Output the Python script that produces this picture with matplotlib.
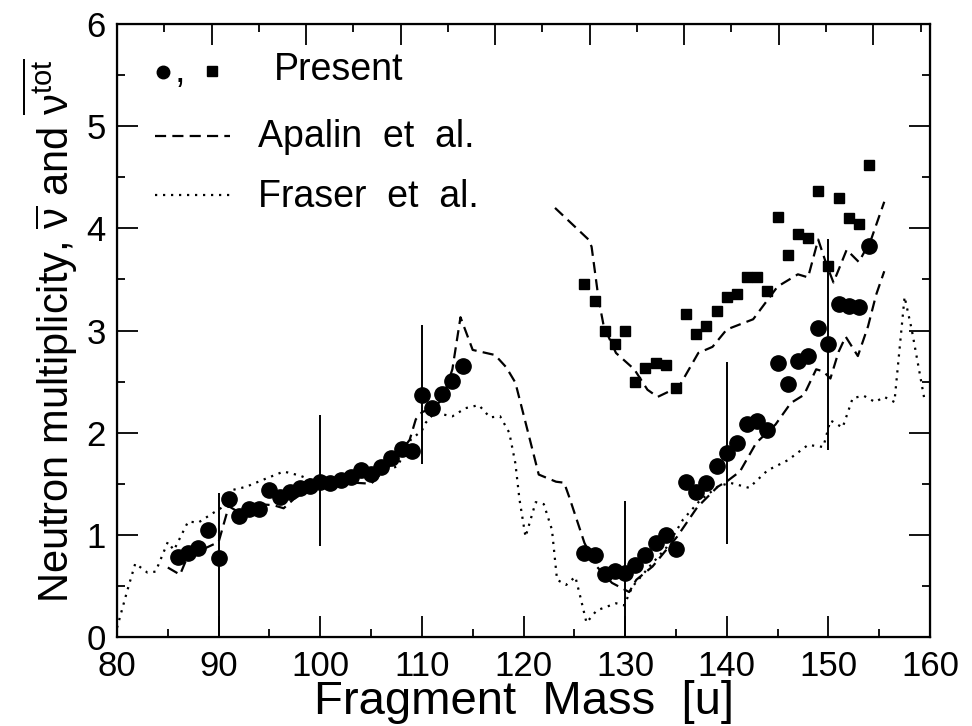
import matplotlib
matplotlib.use('Agg')
import matplotlib.pyplot as plt
from matplotlib.ticker import MultipleLocator, NullFormatter

plt.rcParams['font.family'] = ['Liberation Sans', 'DejaVu Sans']
plt.rcParams['mathtext.fontset'] = 'custom'
plt.rcParams['mathtext.rm'] = 'Liberation Sans'
plt.rcParams['mathtext.it'] = 'Liberation Sans:italic'

# present data: mean neutron multiplicity per fragment mass (circles)
nu_mass = list(range(86, 115)) + list(range(126, 155))
nu_val = [0.78, 0.82, 0.87, 1.05, 0.77, 1.35, 1.18, 1.25, 1.25, 1.44,
          1.37, 1.42, 1.46, 1.48, 1.52, 1.51, 1.54, 1.57, 1.63, 1.60,
          1.66, 1.75, 1.84, 1.82, 2.37, 2.24, 2.38, 2.51, 2.65,
          0.82, 0.80, 0.62, 0.65, 0.63, 0.70, 0.80, 0.92, 1.00, 0.86,
          1.52, 1.42, 1.51, 1.67, 1.80, 1.90, 2.08, 2.11, 2.03, 2.68,
          2.48, 2.70, 2.75, 3.02, 2.87, 3.26, 3.24, 3.23, 3.83]

# present data: total multiplicity (squares)
tot_mass = list(range(126, 155))
tot_val = [3.46, 3.29, 3.00, 2.87, 3.00, 2.50, 2.63, 2.68, 2.66, 2.44,
           3.16, 2.97, 3.04, 3.19, 3.33, 3.36, 3.52, 3.52, 3.39, 4.11,
           3.74, 3.94, 3.91, 4.37, 3.63, 4.30, 4.10, 4.04, 4.62]

# Apalin et al. (dashed), nu-bar
apalin_x = [85, 86.2, 87, 88, 88.7, 90, 91, 92, 93, 94, 95.4, 96.4, 97.4, 98.5,
            100, 101, 102, 103.4, 105, 106, 107, 108.8, 109.4, 110, 111, 112,
            113, 113.8, 115, 117.2, 118.3, 119.2, 120.2, 121.5, 123.2, 124,
            124.5, 126, 127.2, 128.7, 130.4, 131.1, 132.7, 135.1, 137.1, 139.1,
            140.1, 141.3, 142.9, 144.8, 146.3, 147.6, 148.8, 149.5, 150.2, 151,
            151.7, 152.9, 153.9, 154.7, 155.5]
apalin_y = [0.68, 0.61, 0.80, 0.85, 0.87, 0.93, 1.28, 1.22, 1.26, 1.30, 1.29,
            1.26, 1.35, 1.42, 1.49, 1.50, 1.50, 1.51, 1.50, 1.60, 1.69, 1.93,
            2.13, 2.20, 2.24, 2.32, 2.62, 3.13, 2.81, 2.76, 2.64, 2.49, 2.10,
            1.59, 1.52, 1.51, 1.37, 0.92, 0.69, 0.53, 0.44, 0.56, 0.69, 0.98,
            1.27, 1.47, 1.53, 1.62, 1.90, 2.08, 2.29, 2.37, 2.62, 2.60, 2.53,
            2.79, 2.94, 2.75, 3.04, 3.35, 3.58]

# Apalin et al. (dashed), nu-tot
apalin_tot_x = [123.1, 126.4, 126.7, 127.4, 127.9, 129.1, 130.9, 132.2, 133.2,
                135.3, 137.2, 138.6, 140.0, 141.3, 142.6, 145, 147, 148, 149,
                149.8, 150.5, 151.8, 153, 154.2, 155.5]
apalin_tot_y = [4.20, 3.89, 3.82, 3.30, 3.04, 2.78, 2.62, 2.42, 2.35, 2.45,
                2.78, 2.84, 3.01, 3.06, 3.11, 3.43, 3.55, 3.52, 3.89, 3.65,
                3.47, 3.79, 3.67, 3.89, 4.26]

# Fraser et al. (dotted)
fraser_x = [80, 81, 81.8, 83, 83.8, 85, 85.6, 87, 88, 89.4, 90.2, 91.4, 92.7,
            94.4, 96.4, 98, 99, 100, 101, 102, 103, 104, 105, 106, 107.6, 108.9,
            110, 110.4, 111.3, 112, 113, 114.3, 115.6, 116.7, 117.7, 118.6,
            119.2, 119.6, 120.2, 121.2, 122, 122.8, 123.3, 124.2, 125.1, 125.6,
            126.2, 127.2, 129.1, 129.9, 130.7, 132.4, 134.1, 135.7, 137.4,
            139.1, 140.3, 142.2, 144, 146, 148, 149.5, 150.2, 151.4, 152.4,
            153.5, 154.6, 155.5, 156.5, 157.5, 158.2, 159.5]
fraser_y = [0.09, 0.45, 0.72, 0.63, 0.64, 0.93, 0.85, 1.13, 1.12, 1.21, 1.26,
            1.44, 1.47, 1.54, 1.62, 1.58, 1.54, 1.52, 1.50, 1.52, 1.55, 1.56,
            1.58, 1.62, 1.67, 1.93, 2.02, 2.10, 2.20, 2.18, 2.16, 2.24, 2.27,
            2.15, 2.16, 2.00, 1.70, 1.35, 0.98, 1.32, 1.30, 1.05, 0.56, 0.51,
            0.59, 0.39, 0.14, 0.26, 0.33, 0.31, 0.49, 0.69, 0.88, 1.15, 1.34,
            1.47, 1.51, 1.46, 1.63, 1.73, 1.88, 1.86, 2.12, 2.05, 2.34, 2.36,
            2.30, 2.35, 2.30, 3.33, 3.01, 2.30]

# vertical bars at selected masses
bar_x = [90, 100, 110, 130, 140, 150]
bar_lo = [0.0, 0.89, 1.69, 0.0, 0.91, 1.83]
bar_hi = [1.41, 2.17, 3.05, 1.33, 2.69, 3.90]

fig = plt.figure(figsize=(9.72, 7.26), dpi=100)
ax = fig.add_axes([117 / 972, 1 - 637 / 726, 813 / 972, 613 / 726])

dash = (0, (5, 2.8))
dot = (0, (1, 2.6))
ax.plot(fraser_x, fraser_y, color='black', ls=dot, lw=1.6)
ax.plot(apalin_x, apalin_y, color='black', ls=dash, lw=1.6)
ax.plot(apalin_tot_x, apalin_tot_y, color='black', ls=dash, lw=1.6)
ax.vlines(bar_x, bar_lo, bar_hi, color='black', lw=1.4)
ax.plot(nu_mass, nu_val, 'o', color='black', ms=11, zorder=3)
ax.plot(tot_mass, tot_val, 's', color='black', ms=7.5, zorder=3)

ax.set_xlim(80, 160)
ax.set_ylim(0, 6)
ax.xaxis.set_major_locator(MultipleLocator(10))
ax.xaxis.set_minor_locator(MultipleLocator(5))
ax.yaxis.set_major_locator(MultipleLocator(1))
ax.yaxis.set_minor_locator(MultipleLocator(0.5))
ax.tick_params(which='both', direction='in', right=True, top=False, width=1.3)
ax.tick_params(which='major', length=15, labelsize=25)
ax.tick_params(which='minor', length=6)
ax.tick_params(axis='x', pad=9)
ax.tick_params(axis='y', pad=8)
for s in ax.spines.values():
    s.set_linewidth(1.6)

# top axis has its own tick spacing, no labels
top = ax.twiny()
top.set_xlim(0, 8.6)
top.xaxis.set_major_locator(MultipleLocator(1))
top.xaxis.set_minor_locator(MultipleLocator(0.5))
top.xaxis.set_major_formatter(NullFormatter())
top.tick_params(which='both', direction='in', width=1.3)
top.tick_params(which='major', length=15)
top.tick_params(which='minor', length=6)

ax.set_xlabel('Fragment  Mass  [u]', fontsize=34, labelpad=-2)
ax.set_ylabel(r'Neutron multiplicity, $\overline{\mathrm{ν}}$ and '
              r'$\overline{\mathrm{ν}^{\mathrm{tot}}}$',
              fontsize=30, labelpad=5)

# legend drawn by hand
tr = ax.transAxes
ax.plot([0.0566], [0.9217], 'o', color='black', ms=9, transform=tr)
ax.text(0.071, 0.905, ',', fontsize=27, transform=tr)
ax.plot([0.1169], [0.923], 's', color='black', ms=7, transform=tr)
ax.text(0.193, 0.9086, 'Present', fontsize=27, transform=tr)
ax.plot([0.0467, 0.139], [0.817, 0.817], color='black', ls=dash, lw=1.6, transform=tr)
ax.text(0.1734, 0.799, 'Apalin  et  al.', fontsize=27, transform=tr)
ax.plot([0.0467, 0.139], [0.721, 0.721], color='black', ls=dot, lw=1.6, transform=tr)
ax.text(0.1734, 0.7015, 'Fraser  et  al.', fontsize=27, transform=tr)

fig.savefig('out.png', dpi=100)
